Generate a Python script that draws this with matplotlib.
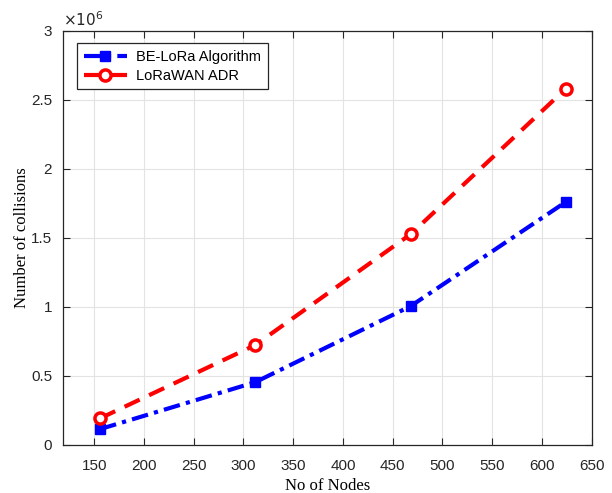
import matplotlib
matplotlib.use("Agg")
import matplotlib.pyplot as plt

nodes = [156, 312, 468, 624]
be_lora = [0.115e6, 0.455e6, 1.005e6, 1.76e6]
lorawan_adr = [0.193e6, 0.724e6, 1.526e6, 2.58e6]
xticks = [150, 200, 250, 300, 350, 400, 450, 500, 550, 600, 650]
yticks = [0, 0.5e6, 1e6, 1.5e6, 2e6, 2.5e6, 3e6]
ytick_labels = ["0", "0.5", "1", "1.5", "2", "2.5", "3"]

plt.rcParams['font.family'] = ['Liberation Sans', 'DejaVu Sans']

fig = plt.figure(figsize=(6.12, 4.93), dpi=100)
ax = fig.add_axes([0.1034, 0.0974, 0.8634, 0.8403])

ax.plot(nodes, be_lora, color='blue', linestyle=(0, (4, 1.5, 1, 1.5)), linewidth=3,
        marker='s', markersize=7, markerfacecolor='blue', markeredgecolor='blue',
        label='BE-LoRa Algorithm')
ax.plot(nodes, lorawan_adr, color='red', linestyle=(0, (4, 2.5)), linewidth=3,
        marker='o', markersize=8, markerfacecolor='white', markeredgecolor='red',
        markeredgewidth=2.5, label='LoRaWAN ADR')

ax.set_xlim(119, 650)
ax.set_ylim(0, 3e6)
ax.set_xticks(xticks)
ax.set_yticks(yticks)
ax.set_yticklabels(ytick_labels)
ax.grid(True, color='#e3e3e3', linewidth=0.8)
ax.set_axisbelow(True)
ax.tick_params(direction='in', top=True, right=True, labelsize=11, colors='#262626', length=5)
ax.tick_params(axis='x', pad=10)
ax.tick_params(axis='y', pad=8)
for s in ax.spines.values():
    s.set_color('#262626')
    s.set_linewidth(0.9)

ax.text(0.0, 1.005, r'$\times10^{6}$', transform=ax.transAxes, fontsize=11,
        color='#262626', va='bottom', ha='left')

ax.set_xlabel('No of Nodes', family='Liberation Serif', fontsize=12, labelpad=4)
ax.set_ylabel('Number of collisions', family='Liberation Serif', fontsize=12, labelpad=1)

leg = ax.legend(loc='upper left', bbox_to_anchor=(0.026, 0.97), borderaxespad=0,
                fontsize=10.5, fancybox=False, edgecolor='#262626', framealpha=1,
                handlelength=3.0, handletextpad=0.6, borderpad=0.45, labelspacing=0.35)
leg.get_frame().set_linewidth(0.9)

fig.savefig('out.png', dpi=100)
